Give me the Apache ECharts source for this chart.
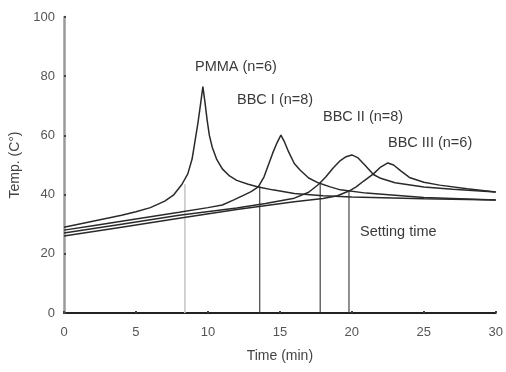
<!DOCTYPE html>
<html><head><meta charset="utf-8">
<script src="https://cdn.jsdelivr.net/npm/echarts@6/dist/echarts.min.js"></script>
<style>html,body{margin:0;padding:0;background:#fff}#c{width:506px;height:372px}</style>
</head><body><div id="c"></div>
<script>
const xTicks = [0, 5, 10, 15, 20, 25, 30];
const yTicks = [0, 20, 40, 60, 80, 100];
const pmmaX = [0, 2, 4, 5, 6, 7, 7.6, 8.2, 8.6, 8.9, 9.1, 9.3, 9.5, 9.65, 9.8, 9.95, 10.1, 10.3, 10.6, 11.0, 11.5, 12, 12.8, 13.5, 14.5, 16, 18, 20, 25, 30];
const pmmaY = [29, 31, 33, 34.2, 35.6, 37.8, 39.8, 43.5, 47, 52, 58, 64, 71, 76.5, 71, 65, 60, 56, 52, 48.7, 46.3, 44.8, 43.5, 42.6, 41.6, 40.4, 39.6, 39.2, 38.6, 38.2];
const bbc1X = [0, 2, 4, 6, 8, 10, 11, 11.8, 12.5, 13.0, 13.5, 13.9, 14.2, 14.5, 14.8, 15.07, 15.3, 15.6, 16.0, 16.4, 17, 17.7, 18.5, 19.2, 21, 25, 30];
const bbc1Y = [28, 29.5, 31, 32.5, 34, 35.6, 36.5, 38.2, 39.8, 41, 42.6, 46, 50, 54, 57.5, 60.1, 58, 54.5, 50.5, 48.3, 45.6, 43.9, 42.6, 41.6, 40.5, 39, 38.2];
const bbc2X = [0, 4, 8, 12, 14, 16, 17, 17.7, 18.2, 18.7, 19.2, 19.6, 20.0, 20.4, 20.9, 21.5, 22, 23, 25, 27, 30];
const bbc2Y = [27, 30, 33, 35.5, 37, 38.8, 40.8, 43.5, 46, 49, 51.5, 52.8, 53.4, 52.5, 50, 46.8, 45.5, 44, 42.6, 41.8, 40.9];
const bbc3X = [0, 4, 8, 12, 16, 18, 19, 19.8, 20.3, 20.8, 21.5, 22, 22.5, 22.9, 23.4, 24, 25, 26.1, 28, 30];
const bbc3Y = [26, 29, 32, 35, 37.6, 38.7, 39.6, 41.2, 42.6, 44.5, 47, 49.3, 50.7, 50, 48, 45.8, 44.2, 43.2, 42, 40.9];
const settingTimes = [8.4, 13.6, 17.8, 19.8];
const settingTemps = [43.5, 42.8, 43.5, 41.2];
const labels = ['PMMA (n=6)', 'BBC I (n=8)', 'BBC II (n=8)', 'BBC III (n=6)'];

function pairs(xs, ys) { return xs.map((x, i) => [x, ys[i]]); }
const curveStyle = { color: '#2a2a2a', width: 1.5 };
const series = [
  [pmmaX, pmmaY], [bbc1X, bbc1Y], [bbc2X, bbc2Y], [bbc3X, bbc3Y]
].map(([xs, ys]) => ({
  type: 'line', data: pairs(xs, ys), showSymbol: false, smooth: false,
  lineStyle: curveStyle, z: 3
}));
settingTimes.forEach((t, i) => {
  series.push({
    type: 'line', data: [[t, 0], [t, settingTemps[i]]], showSymbol: false,
    lineStyle: { color: i === 0 ? '#c8c8c8' : '#333', width: i === 0 ? 1.6 : 1.1 }, z: 2
  });
});
const chart = echarts.init(document.getElementById('c'), null, { renderer: 'canvas' });
const font = 'Liberation Sans, Arial, sans-serif';
const txt = (s, l, t) => ({ type: 'text', left: l, top: t, style: { text: s, fill: '#3a3a3a', font: '14.5px ' + font } });
chart.setOption({
  animation: false,
  grid: { left: 62, right: 10, top: 17, bottom: 59 },
  xAxis: {
    type: 'value', min: 0, max: 30, interval: 5,
    name: 'Time (min)', nameLocation: 'middle', nameGap: 36,
    nameTextStyle: { color: '#444', fontSize: 14, fontFamily: font },
    axisLine: { lineStyle: { color: '#222', width: 2 } },
    axisTick: { inside: true, length: 2, lineStyle: { color: '#444', width: 2 } },
    axisLabel: { color: '#555', fontSize: 13, fontFamily: font, margin: 13 },
    splitLine: { show: false }
  },
  yAxis: {
    type: 'value', min: 0, max: 100, interval: 20,
    name: 'Temp. (C°)', nameLocation: 'middle', nameGap: 42,
    nameTextStyle: { color: '#444', fontSize: 14, fontFamily: font },
    axisLine: { lineStyle: { color: '#9a9a9a', width: 2.5 } },
    axisTick: { inside: true, length: 2, lineStyle: { color: '#444', width: 2 } },
    axisLabel: { color: '#555', fontSize: 13, fontFamily: font, margin: 9 },
    splitLine: { show: false }
  },
  graphic: [
    txt(labels[0], 195, 59),
    txt(labels[1], 237, 92),
    txt(labels[2], 323, 109),
    txt(labels[3], 388, 135),
    txt('Setting time', 360, 224)
  ],
  series: series
});
</script></body></html>
